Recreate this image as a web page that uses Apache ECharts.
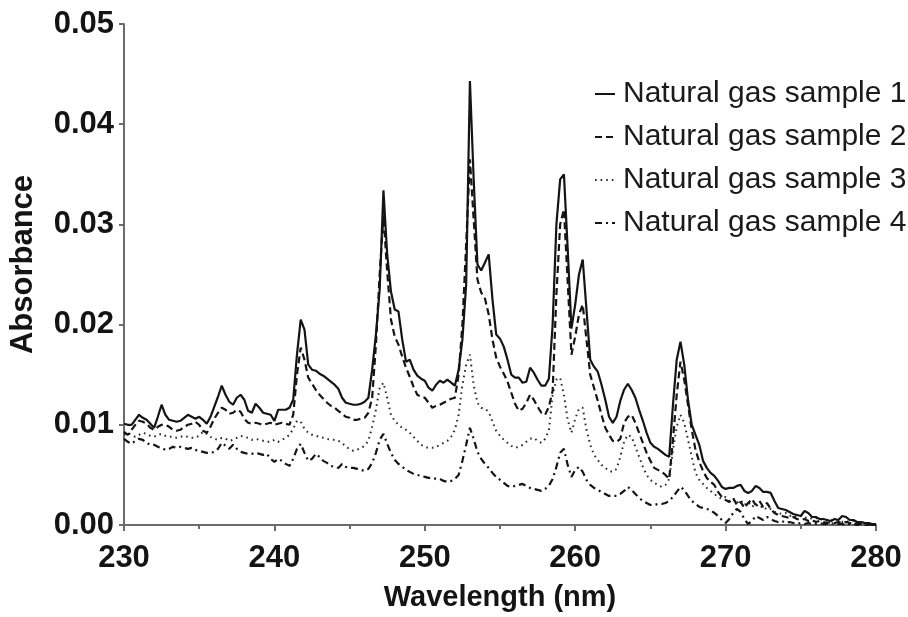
<!DOCTYPE html>
<html>
<head>
<meta charset="utf-8">
<script src="https://cdn.jsdelivr.net/npm/echarts@6/dist/echarts.min.js"></script>
<style>
  html, body { margin: 0; padding: 0; background: #ffffff; }
  #chart { width: 908px; height: 617px; }
</style>
</head>
<body>
<div id="chart"></div>
<script>
// UV absorbance spectra of four natural gas samples, 230–280 nm, sampled every 0.25 nm
const WL_START = 230;
const WL_STEP = 0.25;

const seriesNames = [
  'Natural gas sample 1',
  'Natural gas sample 2',
  'Natural gas sample 3',
  'Natural gas sample 4'
];

const xTicks = [230, 240, 250, 260, 270, 280];
const yTicks = [0.00, 0.01, 0.02, 0.03, 0.04, 0.05];

// one row per nanometre: values at .00, .25, .50, .75
const sample1 = [
  0.0101, 0.0100, 0.0100, 0.0105,
  0.0110, 0.0107, 0.0105, 0.0101,
  0.0097, 0.0108, 0.0120, 0.0110,
  0.0105, 0.0104, 0.0103, 0.0104,
  0.0107, 0.0110, 0.0108, 0.0106,
  0.0108, 0.0105, 0.0101, 0.0108,
  0.0118, 0.0128, 0.0139, 0.0130,
  0.0123, 0.0120, 0.0127, 0.0130,
  0.0125, 0.0114, 0.0112, 0.0121,
  0.0117, 0.0112, 0.0111, 0.0110,
  0.0104, 0.0115, 0.0115, 0.0115,
  0.0117, 0.0125, 0.0170, 0.0205,
  0.0195, 0.0160, 0.0155, 0.0154,
  0.0151, 0.0149, 0.0146, 0.0143,
  0.0140, 0.0136, 0.0127, 0.0122,
  0.0121, 0.0120, 0.0120, 0.0121,
  0.0123, 0.0127, 0.0155, 0.0190,
  0.0235, 0.0334, 0.0270, 0.0233,
  0.0215, 0.0213, 0.0185, 0.0163,
  0.0165, 0.0155, 0.0149, 0.0146,
  0.0144, 0.0137, 0.0134, 0.0140,
  0.0144, 0.0142, 0.0145, 0.0142,
  0.0139, 0.0155, 0.0185, 0.0240,
  0.0443, 0.0345, 0.0260, 0.0254,
  0.0262, 0.0270, 0.0225, 0.0190,
  0.0186, 0.0178, 0.0165, 0.0150,
  0.0147, 0.0147, 0.0142, 0.0143,
  0.0157, 0.0152, 0.0145, 0.0139,
  0.0139, 0.0146, 0.0200, 0.0300,
  0.0345, 0.0350, 0.0276, 0.0196,
  0.0220, 0.0250, 0.0265, 0.0215,
  0.0165, 0.0158, 0.0153, 0.0140,
  0.0125, 0.0108, 0.0102, 0.0108,
  0.0124, 0.0135, 0.0141, 0.0135,
  0.0127, 0.0115, 0.0104, 0.0092,
  0.0082, 0.0078, 0.0076, 0.0073,
  0.0070, 0.0068, 0.0120, 0.0165,
  0.0183, 0.0160, 0.0125, 0.0100,
  0.0090, 0.0080, 0.0064, 0.0057,
  0.0052, 0.0049, 0.0044, 0.0038,
  0.0036, 0.0037, 0.0037, 0.0039,
  0.0040, 0.0034, 0.0032, 0.0034,
  0.0039, 0.0037, 0.0033, 0.0033,
  0.0032, 0.0024, 0.0017, 0.0016,
  0.0015, 0.0013, 0.0011, 0.0010,
  0.0009, 0.0014, 0.0012, 0.0008,
  0.0008, 0.0006, 0.0006, 0.0005,
  0.0004, 0.0006, 0.0005, 0.0009,
  0.0008, 0.0005, 0.0005, 0.0003,
  0.0003, 0.0002, 0.0002, 0.0001,
  0.0001
];

const sample2 = [
  0.0093, 0.0090, 0.0095, 0.0100,
  0.0104, 0.0103, 0.0101, 0.0097,
  0.0095, 0.0098, 0.0100, 0.0100,
  0.0098, 0.0095, 0.0094, 0.0095,
  0.0098, 0.0100, 0.0101, 0.0103,
  0.0100, 0.0094, 0.0092, 0.0098,
  0.0106, 0.0112, 0.0117, 0.0115,
  0.0111, 0.0112, 0.0115, 0.0113,
  0.0106, 0.0102, 0.0101, 0.0102,
  0.0101, 0.0100, 0.0101, 0.0102,
  0.0100, 0.0101, 0.0102, 0.0101,
  0.0100, 0.0110, 0.0150, 0.0177,
  0.0165, 0.0147, 0.0141, 0.0135,
  0.0130, 0.0126, 0.0122, 0.0119,
  0.0117, 0.0114, 0.0111, 0.0108,
  0.0107, 0.0105, 0.0105, 0.0106,
  0.0107, 0.0112, 0.0127, 0.0180,
  0.0250, 0.0309, 0.0253, 0.0205,
  0.0188, 0.0180, 0.0168, 0.0157,
  0.0148, 0.0138, 0.0130, 0.0128,
  0.0127, 0.0122, 0.0117, 0.0119,
  0.0120, 0.0122, 0.0124, 0.0126,
  0.0127, 0.0150, 0.0200, 0.0280,
  0.0365, 0.0305, 0.0245, 0.0232,
  0.0226, 0.0210, 0.0185, 0.0167,
  0.0158, 0.0151, 0.0143, 0.0132,
  0.0121, 0.0114, 0.0116, 0.0122,
  0.0130, 0.0125, 0.0118, 0.0112,
  0.0110, 0.0118, 0.0134, 0.0230,
  0.0300, 0.0315, 0.0243, 0.0170,
  0.0188, 0.0210, 0.0220, 0.0185,
  0.0150, 0.0137, 0.0124, 0.0110,
  0.0097, 0.0090, 0.0084, 0.0083,
  0.0086, 0.0102, 0.0108, 0.0110,
  0.0102, 0.0092, 0.0082, 0.0072,
  0.0064, 0.0057, 0.0055, 0.0053,
  0.0050, 0.0046, 0.0085, 0.0130,
  0.0163, 0.0145, 0.0120, 0.0095,
  0.0075, 0.0063, 0.0054, 0.0047,
  0.0043, 0.0040, 0.0033, 0.0028,
  0.0025, 0.0023, 0.0027, 0.0020,
  0.0023, 0.0017, 0.0022, 0.0026,
  0.0020, 0.0024, 0.0018, 0.0022,
  0.0016, 0.0012, 0.0010, 0.0009,
  0.0008, 0.0007, 0.0008, 0.0006,
  0.0005, 0.0006, 0.0004, 0.0005,
  0.0003, 0.0004, 0.0003, 0.0002,
  0.0003, 0.0002, 0.0003, 0.0002,
  0.0003, 0.0002, 0.0001, 0.0002,
  0.0001, 0.0001, 0.0000, 0.0001,
  0.0000
];

const sample3 = [
  0.0090, 0.0092, 0.0090, 0.0088,
  0.0090, 0.0092, 0.0091, 0.0089,
  0.0088, 0.0090, 0.0091, 0.0089,
  0.0088, 0.0088, 0.0087, 0.0088,
  0.0089, 0.0088, 0.0087, 0.0087,
  0.0089, 0.0093, 0.0091, 0.0088,
  0.0086, 0.0085, 0.0087, 0.0086,
  0.0084, 0.0085, 0.0087, 0.0089,
  0.0088, 0.0087, 0.0085, 0.0086,
  0.0085, 0.0084, 0.0083, 0.0083,
  0.0085, 0.0083, 0.0085, 0.0087,
  0.0090, 0.0096, 0.0104, 0.0103,
  0.0096, 0.0092, 0.0090, 0.0089,
  0.0088, 0.0087, 0.0086, 0.0085,
  0.0085, 0.0084, 0.0082, 0.0078,
  0.0076, 0.0074, 0.0075, 0.0077,
  0.0079, 0.0084, 0.0098, 0.0115,
  0.0137, 0.0142, 0.0127, 0.0110,
  0.0104, 0.0100, 0.0097, 0.0095,
  0.0092, 0.0088, 0.0084, 0.0080,
  0.0078, 0.0077, 0.0077, 0.0078,
  0.0080, 0.0082, 0.0084, 0.0088,
  0.0095, 0.0110, 0.0140, 0.0160,
  0.0170, 0.0140, 0.0122, 0.0117,
  0.0116, 0.0113, 0.0103, 0.0094,
  0.0089, 0.0085, 0.0082, 0.0079,
  0.0077, 0.0078, 0.0080, 0.0083,
  0.0086, 0.0087, 0.0084, 0.0082,
  0.0086, 0.0094, 0.0130, 0.0145,
  0.0147, 0.0130, 0.0105, 0.0092,
  0.0106, 0.0116, 0.0117, 0.0095,
  0.0080, 0.0070, 0.0065, 0.0060,
  0.0057, 0.0054, 0.0053, 0.0056,
  0.0068, 0.0083, 0.0090, 0.0088,
  0.0078, 0.0068, 0.0058, 0.0050,
  0.0045, 0.0042, 0.0040, 0.0038,
  0.0040, 0.0046, 0.0075, 0.0098,
  0.0110, 0.0102, 0.0085, 0.0068,
  0.0052, 0.0045, 0.0041, 0.0037,
  0.0034, 0.0031, 0.0028, 0.0026,
  0.0028, 0.0024, 0.0026, 0.0022,
  0.0025, 0.0020, 0.0023, 0.0018,
  0.0021, 0.0017, 0.0019, 0.0015,
  0.0016, 0.0013, 0.0012, 0.0011,
  0.0012, 0.0009, 0.0010, 0.0008,
  0.0009, 0.0007, 0.0008, 0.0006,
  0.0007, 0.0005, 0.0006, 0.0004,
  0.0005, 0.0004, 0.0005, 0.0003,
  0.0004, 0.0003, 0.0004, 0.0002,
  0.0003, 0.0002, 0.0002, 0.0001,
  0.0001
];

const sample4 = [
  0.0086, 0.0083, 0.0081, 0.0084,
  0.0086, 0.0085, 0.0082, 0.0080,
  0.0080, 0.0078, 0.0077, 0.0075,
  0.0076, 0.0078, 0.0077, 0.0078,
  0.0077, 0.0076, 0.0077, 0.0075,
  0.0074, 0.0073, 0.0072, 0.0072,
  0.0073, 0.0076, 0.0082, 0.0079,
  0.0076, 0.0080, 0.0076, 0.0073,
  0.0072, 0.0071, 0.0071, 0.0072,
  0.0071, 0.0070, 0.0071, 0.0066,
  0.0063, 0.0066, 0.0064, 0.0061,
  0.0059, 0.0066, 0.0076, 0.0081,
  0.0072, 0.0064, 0.0066, 0.0071,
  0.0068, 0.0064, 0.0062, 0.0059,
  0.0058, 0.0057, 0.0061, 0.0058,
  0.0057, 0.0057, 0.0056, 0.0055,
  0.0054, 0.0056, 0.0062, 0.0072,
  0.0085, 0.0091, 0.0081, 0.0072,
  0.0065, 0.0061, 0.0058, 0.0055,
  0.0053, 0.0051, 0.0050, 0.0049,
  0.0048, 0.0047, 0.0047, 0.0046,
  0.0046, 0.0044, 0.0043, 0.0044,
  0.0046, 0.0050, 0.0064, 0.0080,
  0.0097, 0.0086, 0.0073, 0.0066,
  0.0061, 0.0057, 0.0052, 0.0048,
  0.0045, 0.0042, 0.0039, 0.0038,
  0.0039, 0.0040, 0.0041, 0.0039,
  0.0037, 0.0036, 0.0035, 0.0034,
  0.0036, 0.0039, 0.0046, 0.0058,
  0.0072, 0.0076, 0.0060, 0.0048,
  0.0055, 0.0058, 0.0053, 0.0045,
  0.0040, 0.0037, 0.0035, 0.0033,
  0.0031, 0.0029, 0.0029, 0.0029,
  0.0031, 0.0034, 0.0038, 0.0035,
  0.0031, 0.0027, 0.0024, 0.0022,
  0.0020, 0.0020, 0.0021, 0.0021,
  0.0022, 0.0024, 0.0028, 0.0033,
  0.0038, 0.0035, 0.0029, 0.0024,
  0.0021, 0.0018, 0.0017, 0.0016,
  0.0015, 0.0012, 0.0009, 0.0005,
  0.0002, 0.0006, 0.0012, 0.0016,
  0.0013, 0.0006, 0.0001, 0.0004,
  0.0009, 0.0007, 0.0005, 0.0008,
  0.0006, 0.0004, 0.0003, 0.0004,
  0.0002, 0.0003, 0.0002, 0.0001,
  0.0002, 0.0001, 0.0002, 0.0001,
  0.0001, 0.0002, 0.0001, 0.0001,
  0.0001, 0.0002, 0.0001, 0.0001,
  0.0000, 0.0001, 0.0001, 0.0000,
  0.0001, 0.0000, 0.0000, 0.0000,
  0.0000
];

const wavelengths = sample1.map((_, i) => WL_START + i * WL_STEP);
const pair = (vals) => vals.map((v, i) => [wavelengths[i], v]);

const FONT = '"Liberation Sans", Arial, Helvetica, sans-serif';
const INK = '#141414';

const lineStyles = [
  { type: 'solid', width: 2.2, color: INK },
  { type: [7, 4], width: 2.2, color: INK },
  { type: [1.6, 4], width: 2, color: '#2a2a2a' },
  { type: [7, 4, 2, 4], width: 2.2, color: INK }
];
const sampleData = [sample1, sample2, sample3, sample4];

const chart = echarts.init(document.getElementById('chart'), null, { renderer: 'canvas' });

chart.setOption({
  animation: false,
  backgroundColor: '#ffffff',
  grid: { left: 122, right: 32, top: 24, bottom: 89, containLabel: false },
  legend: {
    orient: 'vertical',
    left: 589,
    top: 74,
    itemWidth: 20,
    itemHeight: 14,
    itemGap: 13,
    data: seriesNames,
    itemStyle: { opacity: 0 },
    textStyle: { fontFamily: FONT, fontSize: 30, color: '#1a1a1a', padding: [0, 0, 0, 3] }
  },
  xAxis: {
    type: 'value',
    min: xTicks[0],
    max: xTicks[xTicks.length - 1],
    interval: 10,
    name: 'Wavelength (nm)',
    nameLocation: 'middle',
    nameGap: 58,
    nameTextStyle: { fontFamily: FONT, fontSize: 29, fontWeight: 'bold', color: INK },
    axisLine: { show: true, lineStyle: { color: '#6b6b6b', width: 2 } },
    axisTick: { show: true, length: 6, lineStyle: { color: '#6b6b6b', width: 2 } },
    minorTick: { show: true, splitNumber: 2, length: 4, lineStyle: { color: '#6b6b6b', width: 2 } },
    axisLabel: {
      margin: 18,
      fontFamily: FONT, fontSize: 31, fontWeight: 'bold', color: INK,
      formatter: (v) => String(v)
    },
    splitLine: { show: false }
  },
  yAxis: {
    type: 'value',
    min: yTicks[0],
    max: yTicks[yTicks.length - 1],
    interval: 0.01,
    name: 'Absorbance',
    nameLocation: 'middle',
    nameGap: 85,
    nameTextStyle: { fontFamily: FONT, fontSize: 31, fontWeight: 'bold', color: INK, padding: [0, 0, 0, 20] },
    axisLine: { show: true, lineStyle: { color: '#6b6b6b', width: 2 } },
    axisTick: { show: true, length: 5, lineStyle: { color: '#6b6b6b', width: 2 } },
    axisLabel: {
      margin: 10,
      fontFamily: FONT, fontSize: 31, fontWeight: 'bold', color: INK,
      formatter: (v) => v.toFixed(2)
    },
    splitLine: { show: false }
  },
  series: seriesNames.map((name, k) => ({
    name,
    type: 'line',
    data: pair(sampleData[k]),
    symbol: 'none',
    smooth: false,
    z: 10 - k,
    lineStyle: lineStyles[k],
    itemStyle: { color: INK }
  }))
});
</script>
</body>
</html>
